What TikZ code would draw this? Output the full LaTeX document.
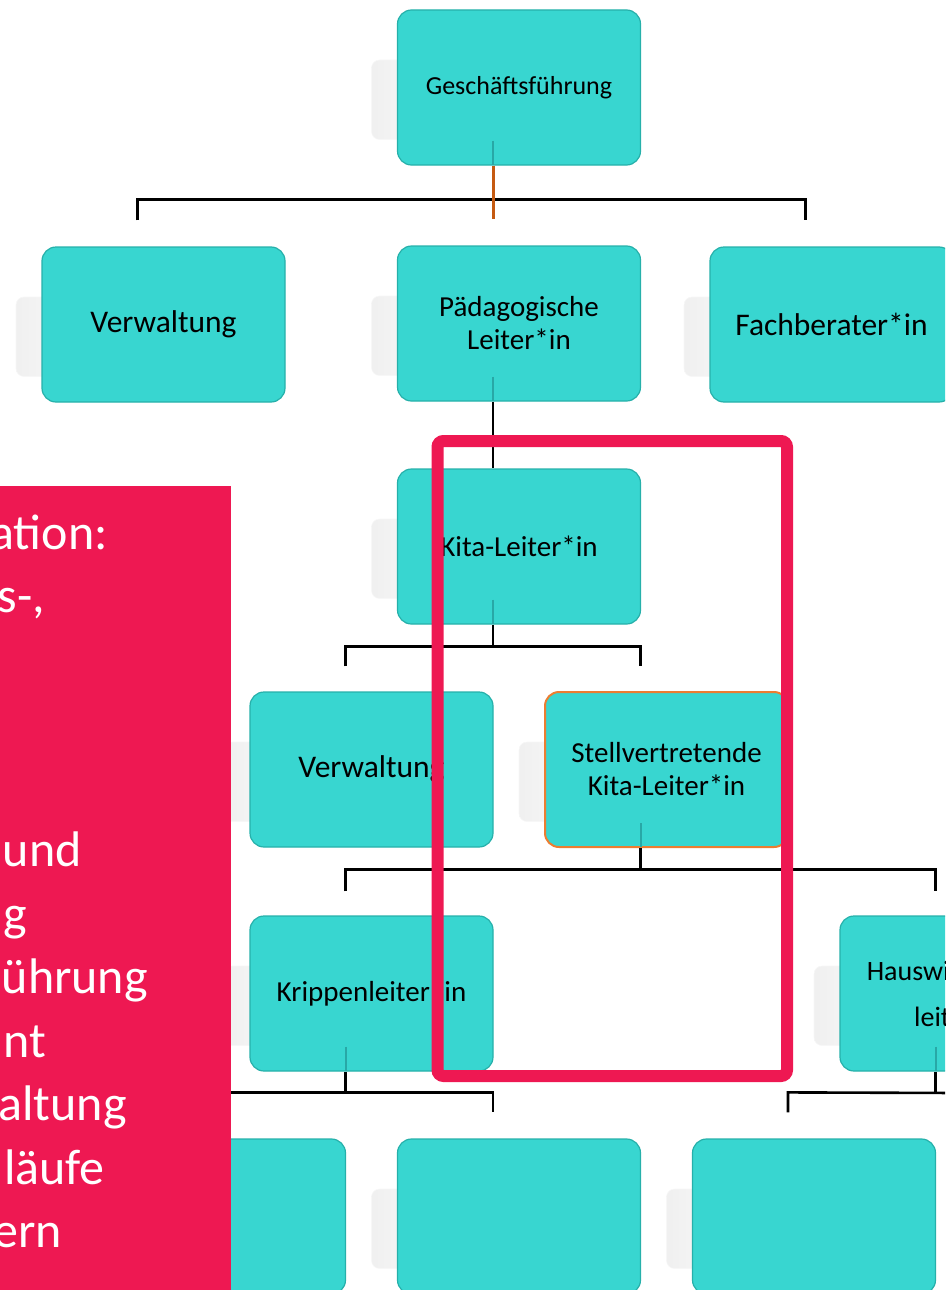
\documentclass[tikz,border=0pt]{standalone}
\usepackage{fontspec}
\setmainfont{Carlito}
\usetikzlibrary{calc}
\definecolor{tealfill}{RGB}{56,214,208}
\definecolor{tealedge}{RGB}{38,176,170}
\definecolor{tealline}{RGB}{40,168,166}
\definecolor{pinkc}{RGB}{238,24,82}
\definecolor{orangec}{RGB}{237,125,49}
\definecolor{brownc}{RGB}{197,90,17}
\begin{document}
\begin{tikzpicture}[x=1pt,y=-1pt,
  box/.style={draw=tealedge, line width=1.2pt, fill=tealfill, rounded corners=14pt,
    minimum width=243pt, minimum height=155pt, align=center, inner sep=0pt, text=black,
    font=\fontsize{29}{33}\selectfont},
  bigtext/.style={font=\fontsize{31.5}{36}\selectfont},
  smalltext/.style={font=\fontsize{26}{30}\selectfont},
  ghost/.style={left color=black!6, right color=black!1, draw=black!3, line width=0.6pt, rounded corners=8pt},
  conn/.style={line width=2.6pt, black},
  inner/.style={line width=2pt, tealline},
  orangeconn/.style={line width=3pt, brownc},
  paneltext/.style={anchor=base east, inner sep=0pt, text=white, font=\fontsize{50}{60}\selectfont},
]
\useasboundingbox (0,0) rectangle (945,1290);
\clip (0,0) rectangle (945,1290);

% box positions (centres)
\coordinate (pgf) at (519,87.5);
\coordinate (pvw1) at (163.5,324.5);
\coordinate (ppl) at (519,323.5);
\coordinate (pfb) at (831.5,324.5);
\coordinate (pkl) at (519,546.5);
\coordinate (pvw2) at (371.5,769.5);
\coordinate (psv) at (666.5,769.5);
\coordinate (pkr) at (371.5,993.5);
\coordinate (phw) at (961.5,993.5);
\coordinate (pb1) at (224,1216.5);
\coordinate (pb2) at (519,1216.5);
\coordinate (pb3) at (814,1216.5);

% ghost reflections
\foreach \p in {pgf,pvw1,ppl,pfb,pkl,pvw2,psv,pkr,phw,pb1,pb2,pb3}{
  \path[ghost] ($(\p)+(-147.5,-27.5)$) rectangle ($(\p)+(-60,52)$);
}

% boxes
\node[box, smalltext] (gf) at (pgf) {Geschäftsführung};
\node[box, bigtext] (vw1) at (pvw1) {Verwaltung};
\node[box] (pl) at (ppl) {Pädagogische\\Leiter*in};
\node[box, bigtext] (fb) at (pfb) {Fachberater*in};
\node[box] (kl) at (pkl) {Kita-Leiter*in};
\node[box, bigtext] (vw2) at (pvw2) {Verwaltung};
\node[box, draw=orangec, line width=2pt] (sv) at (psv) {Stellvertretende\\Kita-Leiter*in};
\node[box, font=\fontsize{29}{34}\selectfont] (kr) at (pkr) {Krippenleiter*in};
\node[box, font=\fontsize{28}{46}\selectfont] (hw) at (phw) {Hauswirtschafts-\\leiter*in};
\node[box] (b1) at (pb1) {};
\node[box] (b2) at (pb2) {};
\node[box] (b3) at (pb3) {};

% faint connector stubs inside boxes
\foreach \n in {gf,pl,kl,sv,kr,hw}{
  \draw[inner] ($(\n.south)+(-26,-25)$) -- ($(\n.south)+(-26,-1)$);
}

% connectors
\draw[conn] ($(vw1.north)+(-26,-26)$) -- ++(0,-21) -| ($(fb.north)+(-26,-26)$);
\draw[orangeconn] ($(gf.south)+(-26,0)$) -- ($(pl.north)+(-26,-26)$);
\draw[conn] ($(pl.south)+(-26,0)$) -- ($(kl.north)+(-26,0)$);
\draw[conn] ($(kl.south)+(-26,0)$) -- ++(0,23);
\draw[conn] ($(vw2.north)+(-26,-25)$) -- ++(0,-20) -| ($(sv.north)+(-26,-25)$);
\draw[conn] ($(sv.south)+(-26,0)$) -- ++(0,23);
\draw[conn] ($(kr.north)+(-26,-24)$) -- ++(0,-22) -| ($(hw.north)+(-26,-24)$);
\draw[conn] ($(kr.south)+(-26,0)$) -- ++(0,22);
\draw[conn] ($(b1.north)+(-26,-26)$) -- ++(0,-20) -| ($(b2.north)+(-26,-26)$);
\coordinate (e6) at (960,1093);
\draw[conn] ($(hw.south)+(-26,0)$) -- ++(0,22);
\draw[conn] ($(b3.north)+(-26,-26)$) -- ++(0,-20) -- (e6);

% pink panel
\fill[pinkc] (-10,486) rectangle (231,1300);
\node[paneltext] (t1) at (108,549) {ation:};
\node[paneltext] (t2) at (45,612.5) {s-,};
\node[paneltext] (t3) at (82,866.5) {und};
\node[paneltext] (t4) at (27,930) {g};
\node[paneltext] (t5) at (148,993.5) {ührung};
\node[paneltext] (t6) at (46,1057) {nt};
\node[paneltext] (t7) at (127,1120.5) {altung};
\node[paneltext] (t8) at (105,1184) {läufe};
\node[paneltext] (t9) at (62,1247.5) {ern};

% pink highlight frame
\draw[pinkc, line width=12pt, rounded corners=6pt] (437.5,441) rectangle (787,1076);
\end{tikzpicture}
\end{document}
